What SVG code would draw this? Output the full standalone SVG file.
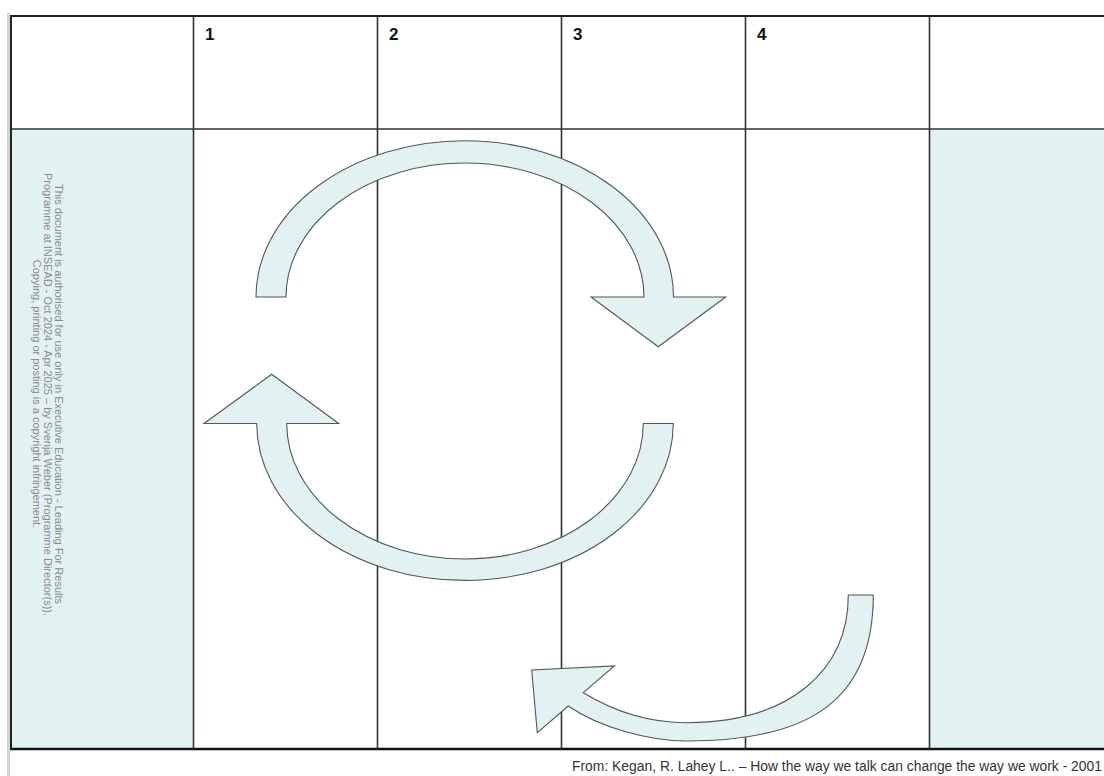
<svg xmlns="http://www.w3.org/2000/svg" width="1104" height="776" viewBox="0 0 1104 776">
  <style>
    .grid { stroke: #333; stroke-width: 1.6; fill: none; }
    .border { stroke: #222; stroke-width: 2; fill: none; }
    .band { fill: #e2f2f3; }
    .num { font-family: "Liberation Sans", Arial, sans-serif; font-weight: bold; font-size: 17px; fill: #111; }
    .note { font-family: "Liberation Sans", Arial, sans-serif; font-size: 11px; fill: #8a8a8a; text-anchor: middle; }
    .src { font-family: "Liberation Sans", Arial, sans-serif; font-size: 14px; fill: #333; }
    .arrow { fill: #e2f2f3; stroke: #555; stroke-width: 1.1; stroke-linejoin: miter; }
  </style>
  <rect width="1104" height="776" fill="#ffffff"/>
  <rect x="7" y="13" width="3" height="763" fill="#d4d4d4"/>

  <g id="table">
    <rect class="band" x="11" y="129" width="182.5" height="619"/>
    <rect class="band" x="929.5" y="129" width="175" height="619"/>
    <line class="grid" x1="11" y1="129" x2="1104" y2="129"/>
    <line class="grid" x1="193.5" y1="16" x2="193.5" y2="748"/>
    <line class="grid" x1="377.5" y1="16" x2="377.5" y2="748"/>
    <line class="grid" x1="561.5" y1="16" x2="561.5" y2="748"/>
    <line class="grid" x1="745.5" y1="16" x2="745.5" y2="748"/>
    <line class="grid" x1="929.5" y1="16" x2="929.5" y2="748"/>
    <line class="border" x1="11" y1="16" x2="1104" y2="16"/>
    <line class="border" x1="11" y1="15" x2="11" y2="749"/>
    <line x1="10" y1="749" x2="1104" y2="749" stroke="#111" stroke-width="2.5"/>
  </g>

  <g id="headers">
    <text class="num" x="205" y="40">1</text>
    <text class="num" x="389" y="40">2</text>
    <text class="num" x="573" y="40">3</text>
    <text class="num" x="757" y="40">4</text>
  </g>

  <g id="notice">
    <text class="note" transform="translate(55,394) rotate(90)">This document is authorised for use only in Executive Education - Leading For Results</text>
    <text class="note" transform="translate(44,394.5) rotate(90)">Programme at INSEAD - Oct 2024 - Apr 2025 – by Svenja Weber (Programme Director(s)).</text>
    <text class="note" transform="translate(33,394) rotate(90)">Copying, printing or posting is a copyright infringement.</text>
  </g>

  <g id="connectors">
    <path id="arrow-top" class="arrow" d="M256,297 A208.5,156 0 0 1 673.5,297 L725.7,297 L658.3,346.7 L591,297 L644,297 A179,134 0 0 0 286,297 Z"/>
    <path id="arrow-bottom" class="arrow" d="M643.3,423.5 L673.3,423.5 A208.3,157 0 0 1 256.7,423.5 L204,423.5 L271.7,374.3 L338.7,423.5 L286.7,423.5 A178.3,135.5 0 0 0 643.3,423.5 Z"/>
    <path id="arrow-return" class="arrow" d="M848.3,595 L873.3,595 C873.3,700 810,741 687,741 C650,741 600,728 568.3,706 L537.3,732.7 L531.7,670 L614.3,666 L583.3,692.7 C615,712 650,722.7 687,722.7 C790,722.7 848.3,670 848.3,595 Z"/>
  </g>

  <g id="source">
    <text class="src" x="572" y="771" textLength="530" lengthAdjust="spacingAndGlyphs">From: Kegan, R. Lahey L.. – How the way we talk can change the way we work - 2001</text>
  </g>
</svg>
